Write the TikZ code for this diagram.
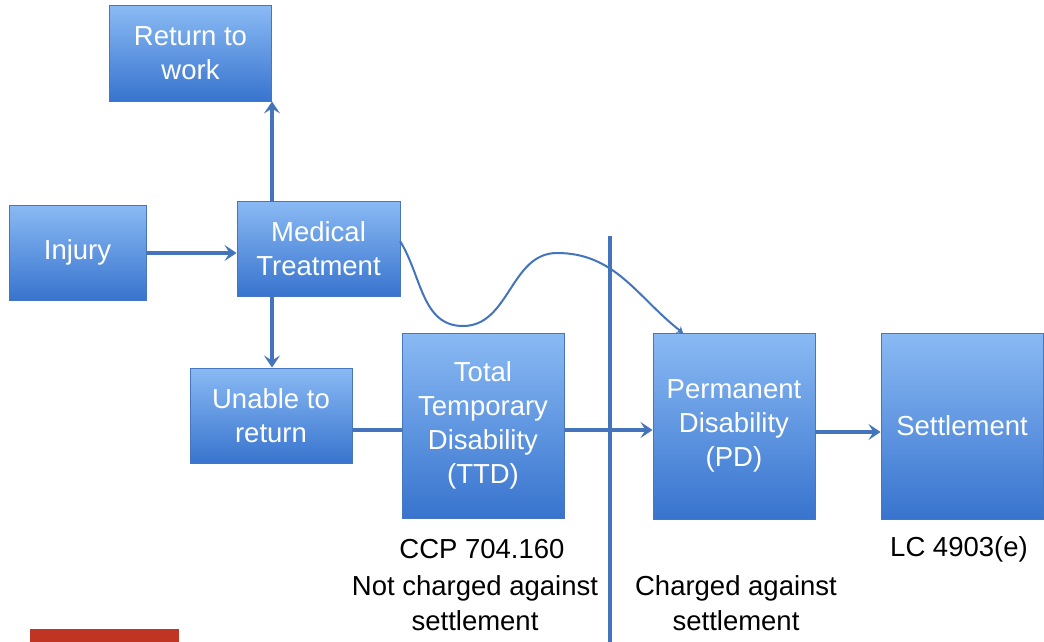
\documentclass[tikz,border=0pt]{standalone}
\usepackage{fontspec}
\setmainfont{Liberation Sans}
\usetikzlibrary{arrows.meta}
\definecolor{boxtop}{RGB}{138,186,244}
\definecolor{boxbot}{RGB}{56,116,206}
\definecolor{boxline}{RGB}{72,118,190}
\definecolor{linkblue}{RGB}{68,116,188}
\definecolor{redbar}{RGB}{192,52,36}
\begin{document}
\begin{tikzpicture}[x=1pt,y=-1pt,
  bx/.style={draw=boxline, line width=1pt, top color=boxtop, bottom color=boxbot,
    text=white, inner sep=0pt, align=center, minimum width=162pt,
    font=\fontsize{27.5}{34}\selectfont},
  lbl/.style={align=center, font=\fontsize{27.5}{35}\selectfont, text=black},
  arr/.style={draw=linkblue, line width=3.4pt, -{Stealth[length=12pt,width=16pt,inset=5pt]}},
  plain/.style={draw=linkblue, line width=3.4pt}]
\useasboundingbox (0,0) rectangle (1044,642);
\fill[white] (0,0) rectangle (1044,642);
\node[bx, minimum height=95pt] (ret) at (190.5,53.5) {Return to\\work};
\node[bx, minimum width=137pt, minimum height=95pt] (inj) at (77.5,252.5) {Injury};
\node[bx, minimum width=163pt, minimum height=95pt] (med) at (318.5,248.5) {Medical\\Treatment};
\node[bx, minimum height=95pt] (una) at (271,415.5) {Unable to\\return};
\node[bx, minimum height=185pt] (ttd) at (483,425.5) {Total\\Temporary\\Disability\\(TTD)};
\node[bx, minimum height=186pt] (pd) at (734,426) {Permanent\\Disability\\(PD)};
\node[bx, minimum height=186pt] (set) at (962,426) {Settlement};
% vertical divider
\coordinate (vtop) at (610,236);
\coordinate (vbot) at (610,642);
\draw[plain] (vtop) -- (vbot);
% connectors
\draw[arr] (inj.east |- 0,253) -- (med.west |- 0,253);
\draw[arr] (med.north -| ret.east) -- (ret.south east);
\draw[arr] (med.south -| ret.east) -- (una.north -| ret.east);
\draw[plain] (una.east |- 0,430) -- (ttd.west |- 0,430);
\draw[arr] (ttd.east |- 0,430) -- (pd.west |- 0,430);
\draw[arr] (pd.east |- 0,432) -- (set.west |- 0,432);
\coordinate (cstart) at (400,241);
\coordinate (cmin) at (463,326);
\coordinate (cmax) at (557,253);
\coordinate (cend) at (683,333);
\draw[draw=linkblue, line width=2pt, -{Stealth[length=6pt,width=8pt,inset=2pt]}]
  (cstart) to[out=-58,in=180] (cmin) to[out=0,in=180] (cmax) to[out=0,in=142] (cend);
% labels
\node[lbl] (ccp) at (482,549) {CCP 704.160};
\node[lbl] (notch) at (475,603) {Not charged against\\settlement};
\node[lbl] (ch) at (736,603) {Charged against\\settlement};
\node[lbl] (lc) at (959,549) {LC 4903(e)};
\fill[redbar] (30,629) rectangle (179,642);
\end{tikzpicture}
\end{document}
